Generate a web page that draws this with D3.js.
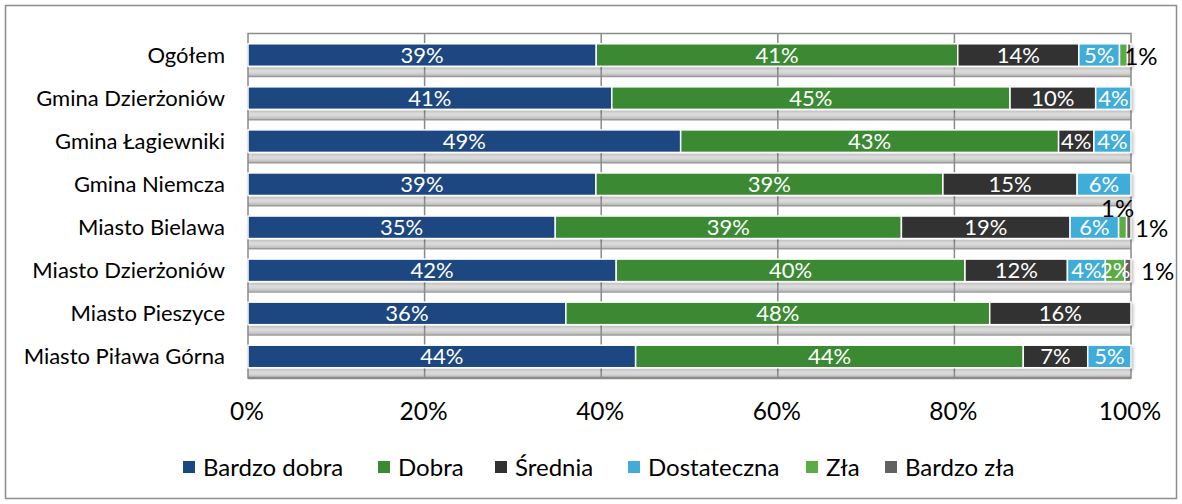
<!DOCTYPE html>
<html>
<head>
<meta charset="utf-8">
<script src="https://cdn.jsdelivr.net/npm/d3@7"></script>
<style>
  html, body { margin: 0; padding: 0; background: #fff; }
  svg { display: block; }
  text { font-family: Lato, "Liberation Sans", sans-serif; }
</style>
</head>
<body>
<svg id="chart" width="1182" height="504"></svg>
<script>
// Ocena (udział odpowiedzi, %) według gminy / miasta
const categories = [
  "Ogółem",
  "Gmina Dzierżoniów",
  "Gmina Łagiewniki",
  "Gmina Niemcza",
  "Miasto Bielawa",
  "Miasto Dzierżoniów",
  "Miasto Pieszyce",
  "Miasto Piława Górna"
];
const seriesNames = ["Bardzo dobra", "Dobra", "Średnia", "Dostateczna", "Zła", "Bardzo zła"];
const bardzoDobra = [39.4, 41.2, 49.0, 39.4, 34.8, 41.7, 36.0, 43.9];
const dobra       = [40.9, 45.1, 42.8, 39.3, 39.2, 39.5, 48.0, 43.9];
const srednia     = [13.7,  9.7,  4.0, 15.2, 19.1, 11.6, 16.0,  7.3];
const dostateczna = [ 4.6,  4.0,  4.2,  6.1,  5.5,  4.3,  0.0,  4.9];
const zla         = [ 0.9,  0.0,  0.0,  0.0,  0.9,  2.2,  0.0,  0.0];
const bardzoZla   = [ 0.4,  0.0,  0.0,  0.0,  0.5,  0.7,  0.0,  0.0];
const xTicks = [0, 20, 40, 60, 80, 100];

const colors = ["#1b4780", "#3b8931", "#333031", "#41acd9", "#5aac44", "#636061"];
const seriesValues = [bardzoDobra, dobra, srednia, dostateczna, zla, bardzoZla];

const svg = d3.select("#chart");

// outer frame
svg.append("rect")
  .attr("x", 5.5).attr("y", 5.5).attr("width", 1171).attr("height", 493)
  .attr("fill", "#fff").attr("stroke", "#8c8c8c").attr("stroke-width", 1.5);

const plot = { left: 248, right: 1131, top: 33.5, bottom: 378 };

const x = d3.scaleLinear().domain([0, 100]).range([plot.left, plot.right]);
const y = d3.scaleBand().domain(categories)
  .range([plot.top, plot.bottom]).paddingInner(0.477).paddingOuter(0.2385);
const step = y.step();

const rows = categories.map((c, i) => {
  const vals = seriesValues.map(s => s[i]);
  const total = d3.sum(vals);
  let acc = 0;
  return vals.map((v, k) => {
    const seg = { cat: c, k, v: v / total * 100, x0: acc };
    acc += seg.v;
    seg.x1 = acc;
    return seg;
  });
});

const defs = svg.append("defs");
const grad = defs.append("linearGradient").attr("id", "floor")
  .attr("x1", 0).attr("x2", 0).attr("y1", 0).attr("y2", 1);
grad.append("stop").attr("offset", "0%").attr("stop-color", "#f2f2f2");
grad.append("stop").attr("offset", "60%").attr("stop-color", "#d6d6d6");
grad.append("stop").attr("offset", "100%").attr("stop-color", "#b9b9b9");

const shadow = defs.append("filter").attr("id", "shadow")
  .attr("x", "-5%").attr("y", "-20%").attr("width", "110%").attr("height", "160%");
shadow.append("feDropShadow").attr("dx", 1.5).attr("dy", 2).attr("stdDeviation", 1.5)
  .attr("flood-color", "#000").attr("flood-opacity", 0.25);

// floor strips below each bar
const g = svg.append("g");
categories.forEach((c, i) => {
  const bandTop = plot.top + i * step;
  const barBottom = y(c) + y.bandwidth();
  const nextTop = bandTop + step;
  g.append("rect")
    .attr("x", plot.left).attr("width", plot.right - plot.left)
    .attr("y", barBottom + 1.5).attr("height", nextTop - barBottom - 2)
    .attr("fill", "url(#floor)");
  g.append("line")
    .attr("x1", plot.left).attr("x2", plot.right)
    .attr("y1", nextTop).attr("y2", nextTop)
    .attr("stroke", "#9a9a9a").attr("stroke-width", 1.5);
});

// vertical gridlines
g.selectAll("line.grid").data(xTicks.slice(1, -1)).join("line")
  .attr("class", "grid")
  .attr("x1", d => x(d)).attr("x2", d => x(d))
  .attr("y1", plot.top).attr("y2", plot.bottom)
  .attr("stroke", "#8a8a8a").attr("stroke-width", 1.5);

// plot frame
g.append("rect")
  .attr("x", plot.left).attr("y", plot.top)
  .attr("width", plot.right - plot.left).attr("height", plot.bottom - plot.top)
  .attr("fill", "none").attr("stroke", "#8a8a8a").attr("stroke-width", 1.5);
g.append("line")
  .attr("x1", plot.left).attr("x2", plot.right)
  .attr("y1", plot.bottom).attr("y2", plot.bottom)
  .attr("stroke", "#8a8a8a").attr("stroke-width", 2.5);

// bars
const bars = svg.append("g").attr("filter", "url(#shadow)");
rows.forEach(r => {
  bars.selectAll(null).data(r.filter(s => s.v > 0)).join("rect")
    .attr("x", s => x(s.x0)).attr("width", s => x(s.x1) - x(s.x0))
    .attr("y", s => y(s.cat)).attr("height", y.bandwidth())
    .attr("fill", s => colors[s.k])
    .attr("stroke", "#fff").attr("stroke-width", 1.5);
});

// value labels: segments too narrow for text get a black label beside the bar
const labels = svg.append("g").attr("font-size", 22);
rows.forEach(r => {
  const cy = y(r[0].cat) + y.bandwidth() / 2;
  const shown = r.filter(s => Math.round(s.v) > 0);
  const outside = shown.filter(s => s.v < 1.5);
  const prevInsideSmall = shown.some(s => s.k >= 4 && s.v >= 1.5);
  shown.forEach(s => {
    const txt = Math.round(s.v) + "%";
    if (s.v >= 1.5) {
      labels.append("text")
        .attr("x", x((s.x0 + s.x1) / 2)).attr("y", cy)
        .attr("dy", "0.36em").attr("text-anchor", "middle")
        .attr("fill", "#fff").text(txt);
    } else {
      const idx = outside.indexOf(s);
      const last = idx === outside.length - 1;
      const t = labels.append("text").attr("fill", "#000").attr("font-size", 24).text(txt);
      if (last) {
        const gap = s.k === 5 ? (prevInsideSmall ? 10 : 4) : -3;
        t.attr("x", x(s.x1) + gap).attr("y", cy + 1)
          .attr("dy", "0.36em").attr("text-anchor", "start");
      } else {
        t.attr("x", x((s.x0 + s.x1) / 2) - 5).attr("y", cy - 19)
          .attr("dy", "0.36em").attr("text-anchor", "middle");
      }
    }
  });
});

// category axis labels
svg.append("g").selectAll("text").data(categories).join("text")
  .attr("x", 225).attr("y", d => y(d) + y.bandwidth() / 2)
  .attr("dy", "0.36em").attr("text-anchor", "end")
  .attr("font-size", 22).attr("fill", "#000").text(d => d);

// x axis tick labels
svg.append("g").selectAll("text").data(xTicks).join("text")
  .attr("x", d => x(d) - 1).attr("y", 411)
  .attr("dy", "0.36em").attr("text-anchor", "middle")
  .attr("font-size", 24.5).attr("fill", "#000").text(d => d + "%");

// legend
const legendX = [183, 378, 495, 628, 806, 885];
const lg = svg.append("g");
seriesNames.forEach((n, k) => {
  lg.append("rect").attr("x", legendX[k]).attr("y", 461)
    .attr("width", 12).attr("height", 12).attr("fill", colors[k]);
  lg.append("text").attr("x", legendX[k] + 20).attr("y", 467)
    .attr("dy", "0.36em").attr("font-size", 24).attr("fill", "#000").text(n);
});
</script>
</body>
</html>
